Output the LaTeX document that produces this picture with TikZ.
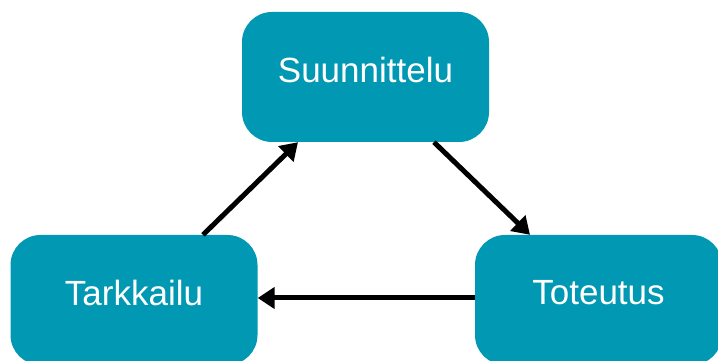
\documentclass[tikz,border=0pt]{standalone}
\usepackage{fontspec}
\setmainfont{Liberation Sans}
\usetikzlibrary{arrows.meta,calc}
\definecolor{teal1}{RGB}{0,152,178}
\begin{document}
\begin{tikzpicture}[x=1pt,y=1pt,
  box/.style={fill=teal1,draw=none,rounded corners=30pt,minimum width=247pt,minimum height=130pt,inner sep=0pt},
  lbl/.style={text=white,font=\fontsize{35}{40}\selectfont,inner sep=0pt},
  arr/.style={line width=5pt,-{Triangle[length=17pt,width=21pt]}}]
\useasboundingbox (0,0) rectangle (718,361);
\node[box] (suun) at (365.5,284) {};
\node[box] (tark) at (134,61) {};
\node[box] (tote) at (598.5,61) {};
\node[lbl] (suunt) at ($(suun.center)+(0,7)$) {Suunnittelu};
\node[lbl] (tarkt) at ($(tark.center)+(0,7)$) {Tarkkailu};
\node[lbl] (totet) at ($(tote.center)+(0,7)$) {Toteutus};
\draw[arr] ($(tark.north)+(69,0)$) -- ($(suun.south)+(-67.5,0)$);
\draw[arr] ($(suun.south)+(68.5,0)$) -- ($(tote.north)+(-68.5,0)$);
\draw[arr] ($(tote.west)+(0,2)$) -- ($(tark.east)+(0,2)$);
\end{tikzpicture}
\end{document}
